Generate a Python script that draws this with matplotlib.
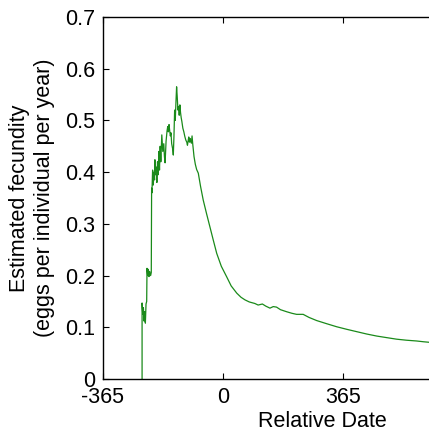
import numpy as np
import matplotlib.pyplot as plt

plt.rcParams['font.family'] = ['Liberation Sans', 'DejaVu Sans']

# relative date (days) and estimated fecundity
days = [-246, -246, -244, -242, -240, -238, -236, -234, -232, -231, -229, -227,
        -225, -223, -220, -218, -217, -216, -214, -212, -210, -208, -207, -205,
        -203, -201, -199, -197, -195, -193, -191, -189, -186, -183, -180, -178,
        -176, -173, -170, -168, -166, -164, -162, -160, -158, -156, -153, -151,
        -149, -147, -145, -143, -141, -139, -137, -135, -133, -131, -129, -127,
        -125, -122, -119, -116, -113, -110, -108, -106, -104, -102, -100, -98,
        -96, -94, -92, -88, -84, -80, -75, -68, -60, -50, -40, -30, -19, -5,
        11, 25, 42, 55, 67, 80, 97, 107, 120, 130, 143, 153, 163, 175, 194,
        210, 224, 244, 262, 285, 315, 346, 377, 407, 437, 468, 498, 528, 558,
        589, 610, 627, 660]
fecundity = [0.0, 0.147, 0.125, 0.138, 0.112, 0.130, 0.108, 0.145, 0.150, 0.214,
             0.200, 0.212, 0.198, 0.208, 0.200, 0.206, 0.369, 0.360, 0.404, 0.375,
             0.400, 0.385, 0.424, 0.395, 0.410, 0.380, 0.420, 0.395, 0.440, 0.404,
             0.450, 0.420, 0.472, 0.440, 0.455, 0.430, 0.418, 0.460, 0.480, 0.488,
             0.478, 0.492, 0.480, 0.470, 0.476, 0.455, 0.445, 0.433, 0.470, 0.520,
             0.500, 0.535, 0.565, 0.545, 0.520, 0.527, 0.510, 0.530, 0.515, 0.505,
             0.498, 0.485, 0.478, 0.469, 0.462, 0.458, 0.452, 0.460, 0.468, 0.458,
             0.465, 0.460, 0.456, 0.470, 0.455, 0.430, 0.415, 0.405, 0.398, 0.372,
             0.346, 0.320, 0.295, 0.270, 0.243, 0.218, 0.198, 0.180, 0.166, 0.158,
             0.153, 0.149, 0.146, 0.143, 0.145, 0.141, 0.137, 0.140, 0.139, 0.134,
             0.130, 0.127, 0.125, 0.125, 0.119, 0.113, 0.107, 0.101, 0.096, 0.0915,
             0.087, 0.083, 0.080, 0.077, 0.075, 0.0735, 0.072, 0.071, 0.069]

fig = plt.figure(figsize=(4.29, 4.32), dpi=100)
# axes run past the right edge of the picture, as in the original
ax = fig.add_axes([0.240, 0.1227, 1.023, 0.838])
ax.plot(days, fecundity, color='#1a8a1a', lw=0.9)

ax.set_xlim(-365, 970)
ax.set_ylim(0, 0.7)
ax.set_xticks([-365, 0, 365])
ax.set_xticklabels(['-365', '0', '365'])
ax.set_yticks(np.arange(0, 0.71, 0.1))
ax.set_yticklabels(['0', '0.1', '0.2', '0.3', '0.4', '0.5', '0.6', '0.7'])
ax.tick_params(direction='in', top=True, right=True, labelsize=15.5, length=4, pad=5.5)
ax.set_xlabel('Relative Date', fontsize=15.5)
ax.set_ylabel('Estimated fecundity\n(eggs per individual per year)', fontsize=15.5)
ax.xaxis.set_label_coords(0.5, -0.088)
ax.yaxis.set_label_coords(-0.110, 0.5)
for s in ax.spines.values():
    s.set_linewidth(1.0)

fig.savefig('out.png', dpi=100)
